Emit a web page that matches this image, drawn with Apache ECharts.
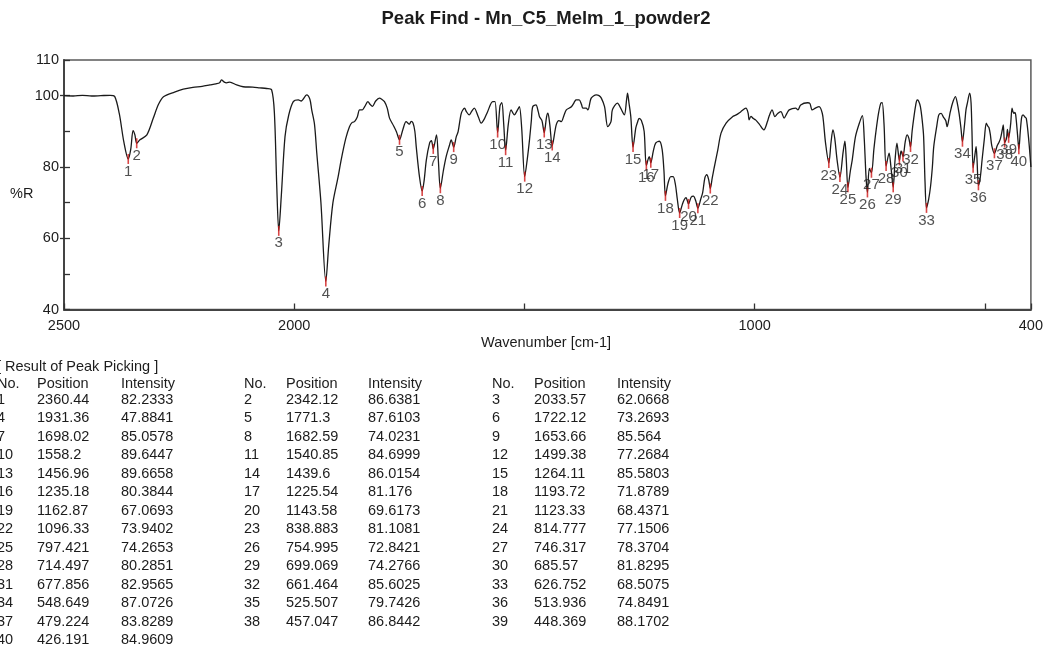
<!DOCTYPE html>
<html>
<head>
<meta charset="utf-8">
<script src="https://cdn.jsdelivr.net/npm/echarts@6/dist/echarts.min.js"></script>
<style>
  html, body { margin: 0; padding: 0; background: #ffffff; }
  #chart { width: 1046px; height: 658px; }
</style>
</head>
<body>
<div id="chart"></div>
<script>
const chartTitle = 'Peak Find - Mn_C5_Melm_1_powder2';
const xAxisName = 'Wavenumber [cm-1]';
const yAxisName = '%R';
const tableHeading = '[ Result of Peak Picking ]';
const tableColumns = ['No.', 'Position', 'Intensity'];

// Spectrum trace between the picked peaks: wavenumber (cm-1) and %R
const traceWavenumber = [
  2500, 2480, 2460, 2440, 2420, 2400, 2390, 2380, 2370, 2355, 2350, 2346, 2335, 2320, 2306, 2295, 2284, 2260, 2241, 2220,
  2200, 2183, 2170, 2162, 2158, 2152, 2147, 2140, 2125, 2111, 2090, 2075, 2060, 2049, 2043, 2038, 2028, 2020, 2012, 2002,
  1991, 1985, 1973, 1966, 1962, 1956, 1951, 1942, 1925, 1916, 1905, 1898, 1888, 1880, 1874, 1869, 1863, 1858, 1852, 1847,
  1840, 1835, 1830, 1823, 1815, 1810, 1804, 1798, 1793, 1784, 1778, 1764, 1757, 1750, 1746, 1742, 1738, 1735, 1728, 1718,
  1713, 1706, 1702, 1691, 1687, 1676, 1670, 1663, 1659, 1648, 1644, 1637, 1630, 1626, 1620, 1615, 1609, 1600, 1594, 1587,
  1580, 1569, 1564, 1553, 1549, 1545, 1535, 1529, 1522, 1515, 1511, 1506, 1494, 1489, 1485, 1482, 1475, 1470, 1467, 1462,
  1452, 1449, 1445, 1431, 1425, 1420, 1414, 1409, 1398, 1390, 1388, 1381, 1376, 1373, 1366, 1362, 1355, 1344, 1338, 1333,
  1326, 1319, 1312, 1309, 1298, 1291, 1283, 1278, 1276, 1273, 1269, 1258, 1254, 1251, 1246, 1240, 1229, 1220, 1215, 1207,
  1201, 1197, 1188, 1182, 1177, 1172, 1168, 1157, 1153, 1149, 1138, 1133, 1128, 1117, 1113, 1108, 1104, 1100, 1092, 1088,
  1080, 1073, 1062, 1048, 1040, 1030, 1019, 1014, 1012, 1008, 1003, 998, 990, 980, 972, 969, 962, 956, 950, 943,
  936, 930, 925, 911, 906, 900, 885, 880, 875, 868, 860, 853, 850, 846, 834, 830, 826, 821, 808, 804,
  801, 792, 788, 781, 772, 766, 762, 758, 751, 741, 737, 731, 726, 723, 719, 708, 704, 695, 691, 682,
  673, 669, 665, 658, 654, 650, 647, 644, 640, 636, 633, 630, 622, 618, 614, 611, 605, 600, 595, 590,
  585, 582, 578, 575, 570, 564, 560, 556, 552, 544, 541, 538, 533, 530, 528, 521, 519, 517, 510, 506,
  501, 497, 494, 491, 488, 485, 473, 469, 466, 462, 460, 453, 451, 444, 441, 439, 437, 435, 433, 429,
  423, 420, 417, 413, 410, 405, 400
];
const traceReflectance = [
  100, 99.9, 100.1, 99.9, 100, 100.1, 99.8, 95, 87, 85, 90.2, 89, 87.6, 89, 93.7, 97.5, 99.7, 101, 101.8, 102.3,
  102.6, 103, 103.3, 103.6, 104.4, 103.8, 103.6, 103.8, 103, 102.5, 102.4, 102.2, 102, 101.6, 95, 75, 72, 88.5, 94.5, 98.3,
  98.8, 98.5, 100.2, 99, 96, 92, 83.9, 70, 58, 69.9, 77, 82, 88, 91.3, 92.5, 92.7, 94, 96, 96, 96.9,
  98.3, 97.5, 97, 98.5, 99.3, 99, 98.3, 96.5, 93.7, 91.5, 89.9, 90.5, 92.7, 92, 92.8, 92.3, 90, 85.7, 77.3, 76,
  82, 86.7, 87.4, 89, 82, 79, 82.9, 86, 87.6, 88.5, 89.9, 95.1, 96.5, 95.5, 94.6, 95.5, 96.5, 94, 92.3, 93.5,
  95.5, 98.3, 98.3, 97.2, 98, 92, 92, 96, 94.6, 96, 96.9, 91, 82, 87.6, 93, 96.9, 97.4, 95.5, 94, 93,
  94, 95.1, 92, 91.8, 93, 92.7, 94.5, 96, 96.9, 98.5, 98.8, 98.8, 97.5, 96.5, 96.5, 96, 99.3, 100.2, 100, 99.3,
  96.9, 91.3, 92.7, 96, 97.9, 96.5, 94.6, 99, 100.7, 98, 94.1, 91, 92.7, 93.6, 93, 90, 82.9, 84.5, 86.7, 87.2,
  85, 79, 75.5, 77.3, 77.3, 75, 71, 69.5, 70.8, 71.4, 71.5, 71.8, 70.5, 71, 72.7, 77, 77.8, 76.5, 77, 79.7,
  84.8, 89.5, 92.3, 94.1, 94.6, 95.5, 96.5, 95, 93.2, 94.2, 93.6, 93.2, 92, 90.4, 92.8, 94.1, 96, 94.1, 95, 95.5,
  93.7, 95, 96, 96.5, 96, 97.4, 98, 97.8, 96, 96.5, 96.9, 95, 92, 86.7, 87, 90.4, 88, 82, 84, 87.2,
  82, 79, 82, 88.5, 92.5, 94.4, 88, 77, 79.6, 85, 89.5, 95, 97.9, 98, 92, 83.9, 80, 82, 86.7, 84.5,
  87, 89, 88, 90, 94.1, 97.5, 98.8, 98.5, 96.9, 93, 88.5, 76, 71, 74.5, 80, 85.7, 91, 94.6, 95, 94,
  93, 91.3, 93.5, 95.5, 98, 99.7, 98, 95, 91, 92, 96, 97.9, 100.7, 98, 90, 84, 85.7, 82, 77, 82,
  88, 92.3, 91.5, 91, 89, 86, 86, 87, 88, 90.5, 91.8, 88, 90.5, 92, 96.5, 95.5, 95, 95.3, 94.6, 89,
  90, 94, 94.6, 94, 93.6, 88, 80
];

// Picked peaks
const peakNo = [
  1, 2, 3, 4, 5, 6, 7, 8, 9, 10, 11, 12, 13, 14, 15, 16, 17, 18, 19, 20,
  21, 22, 23, 24, 25, 26, 27, 28, 29, 30, 31, 32, 33, 34, 35, 36, 37, 38, 39, 40
];
const peakPosition = [
  2360.44, 2342.12, 2033.57, 1931.36, 1771.3, 1722.12, 1698.02, 1682.59, 1653.66, 1558.2,
  1540.85, 1499.38, 1456.96, 1439.6, 1264.11, 1235.18, 1225.54, 1193.72, 1162.87, 1143.58,
  1123.33, 1096.33, 838.883, 814.777, 797.421, 754.995, 746.317, 714.497, 699.069, 685.57,
  677.856, 661.464, 626.752, 548.649, 525.507, 513.936, 479.224, 457.047, 448.369, 426.191
];
const peakIntensity = [
  82.2333, 86.6381, 62.0668, 47.8841, 87.6103, 73.2693, 85.0578, 74.0231, 85.564, 89.6447,
  84.6999, 77.2684, 89.6658, 86.0154, 85.5803, 80.3844, 81.176, 71.8789, 67.0693, 69.6173,
  68.4371, 73.9402, 81.1081, 77.1506, 74.2653, 72.8421, 78.3704, 80.2851, 74.2766, 81.8295,
  82.9565, 85.6025, 68.5075, 87.0726, 79.7426, 74.8491, 83.8289, 86.8442, 88.1702, 84.9609
];

// Axis ticks and labels
const xTickValues = [2500, 2000, 1500, 1000, 500, 400];
const xLabelValues = [2500, 2000, 1000, 400];
const yLabelValues = [110, 100, 80, 60, 40];
const yOuterTickValues = [100, 80, 60];

const FONT = '"Liberation Sans", Arial, Helvetica, sans-serif';
const INK = '#1c1c1c';

// Full curve: trace points plus the peak minima, ordered by wavenumber
const curve = traceWavenumber.map((w, i) => [w, traceReflectance[i]])
  .concat(peakPosition.map((w, i) => [w, peakIntensity[i]]))
  .sort((a, b) => b[0] - a[0]);

const peakData = peakPosition.map((w, i) => [w, peakIntensity[i], peakNo[i]]);

// Peak table below the plot: three peaks per row
const colX = [
  { no: -3, pos: 37, inten: 121 },
  { no: 244, pos: 286, inten: 368 },
  { no: 492, pos: 534, inten: 617 }
];
const headerY = 384;
const firstRowY = 399.5;
const rowStep = 18.5;

function txt(x, y, text, opts) {
  opts = opts || {};
  return {
    type: 'text',
    x: x,
    y: y,
    silent: true,
    style: {
      text: text,
      fill: opts.fill || INK,
      font: (opts.weight || 'normal') + ' ' + (opts.size || 14.5) + 'px ' + FONT,
      align: opts.align || 'left',
      verticalAlign: 'middle',
      textAlign: opts.align || 'left',
      textVerticalAlign: 'middle'
    }
  };
}

const graphics = [];
graphics.push(txt(546, 19, chartTitle, { weight: 'bold', size: 18.5, align: 'center' }));
graphics.push(txt(10, 194, yAxisName, { size: 14.5 }));
graphics.push(txt(546, 343, xAxisName, { size: 14.5, align: 'center' }));
graphics.push(txt(-3, 367, tableHeading, { size: 14.5 }));
colX.forEach(c => {
  graphics.push(txt(c.no, headerY, tableColumns[0]));
  graphics.push(txt(c.pos, headerY, tableColumns[1]));
  graphics.push(txt(c.inten, headerY, tableColumns[2]));
});
peakNo.forEach((n, i) => {
  const row = Math.floor(i / 3);
  const c = colX[i % 3];
  const y = firstRowY + row * rowStep;
  graphics.push(txt(c.no, y, String(n)));
  graphics.push(txt(c.pos, y, String(peakPosition[i])));
  graphics.push(txt(c.inten, y, String(peakIntensity[i])));
});

const chart = echarts.init(document.getElementById('chart'), null, { renderer: 'canvas' });
chart.setOption({
  animation: false,
  backgroundColor: '#ffffff',
  grid: {
    left: 64, top: 60, width: 967, height: 249.5,
    show: true, borderColor: '#5a5a5a', borderWidth: 1.5, backgroundColor: 'transparent'
  },
  xAxis: {
    type: 'value',
    inverse: true,
    min: 400,
    max: 2500,
    axisLine: { show: true, onZero: false, lineStyle: { color: '#444', width: 2 } },
    axisTick: { show: true, inside: true, length: 6, customValues: xTickValues, lineStyle: { color: '#333', width: 1.3 } },
    axisLabel: {
      show: true, customValues: xLabelValues, color: INK, fontSize: 14.5, fontFamily: FONT, margin: 9,
      formatter: v => String(v)
    },
    splitLine: { show: false }
  },
  yAxis: [
    {
      type: 'value',
      min: 40,
      max: 110,
      interval: 10,
      axisLine: { show: true, onZero: false, lineStyle: { color: '#444', width: 2 } },
      axisTick: { show: true, inside: true, length: 6, lineStyle: { color: '#333', width: 1.3 } },
      axisLabel: {
        show: true, customValues: yLabelValues, color: INK, fontSize: 14.5, fontFamily: FONT, margin: 5,
        formatter: v => String(v)
      },
      splitLine: { show: false }
    },
    {
      type: 'value',
      min: 40,
      max: 110,
      position: 'left',
      axisLine: { show: false },
      axisTick: { show: true, inside: false, length: 4, customValues: yOuterTickValues, lineStyle: { color: '#333', width: 1.3 } },
      axisLabel: { show: false },
      splitLine: { show: false }
    }
  ],
  series: [
    {
      name: 'spectrum',
      type: 'line',
      data: curve,
      showSymbol: false,
      smooth: 0.3,
      lineStyle: { color: '#1a1a1a', width: 1.3 },
      z: 2,
      silent: true
    },
    {
      name: 'peaks',
      type: 'scatter',
      data: peakData,
      symbol: 'rect',
      symbolSize: [1.6, 10],
      itemStyle: { color: '#d01818' },
      label: {
        show: true,
        position: 'bottom',
        distance: 0,
        formatter: p => String(p.data[2]),
        color: '#262626',
        fontSize: 15,
        fontFamily: FONT
      },
      labelLayout: { hideOverlap: false },
      z: 3,
      silent: true
    }
  ],
  graphic: { elements: graphics }
});
</script>
</body>
</html>
